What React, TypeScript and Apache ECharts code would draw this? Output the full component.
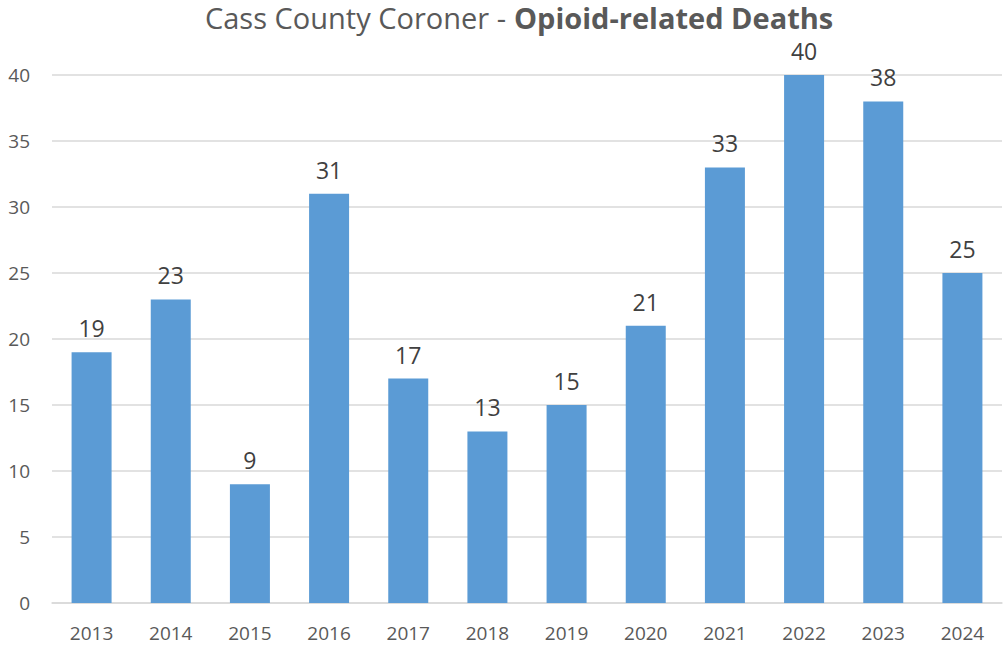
import React, { useEffect, useRef } from "react";
import * as echarts from "echarts";

const categories = ["2013", "2014", "2015", "2016", "2017", "2018", "2019", "2020", "2021", "2022", "2023", "2024"];
const deaths = [19, 23, 9, 31, 17, 13, 15, 21, 33, 40, 38, 25];
const titleRegular = "Cass County Coroner -";
const titleBold = "Opioid-related Deaths";

const FONT = "'Open Sans', sans-serif";

export default function App() {
  const ref = useRef<HTMLDivElement>(null);
  useEffect(() => {
    if (!ref.current) return;
    const chart = echarts.init(ref.current, null, { renderer: "svg" });
    chart.setOption({
      animation: false,
      backgroundColor: "#ffffff",
      title: [
        {
          text: titleRegular,
          left: 506,
          textAlign: "right",
          top: 3,
          padding: 0,
          textStyle: { fontFamily: FONT, fontSize: 29, color: "#595959", fontWeight: "normal" },
        },
        {
          text: titleBold,
          left: 514,
          textAlign: "left",
          top: 3,
          padding: 0,
          textStyle: { fontFamily: FONT, fontSize: 29, color: "#595959", fontWeight: "bold" },
        },
      ],
      grid: { left: 52, right: 1, top: 75, bottom: 48, containLabel: false },
      xAxis: {
        type: "category",
        data: categories,
        axisLine: { show: true, lineStyle: { color: "#d9d9d9", width: 1.5 } },
        axisTick: { show: false },
        axisLabel: { color: "#595959", fontFamily: FONT, fontSize: 19, margin: 20 },
      },
      yAxis: {
        type: "value",
        min: 0,
        max: 40,
        interval: 5,
        axisLine: { show: false },
        axisTick: { show: false },
        splitLine: { lineStyle: { color: "#d9d9d9", width: 1.5 } },
        axisLabel: { color: "#595959", fontFamily: FONT, fontSize: 19, margin: 22 },
      },
      series: [
        {
          type: "bar",
          data: deaths,
          barWidth: 40,
          itemStyle: { color: "#5b9bd5" },
          label: {
            show: true,
            position: "top",
            distance: 12,
            color: "#404040",
            fontFamily: FONT,
            fontSize: 23,
            lineHeight: 24,
          },
        },
      ],
    });
    return () => chart.dispose();
  }, []);
  return <div ref={ref} style={{ width: 1003, height: 651, position: "absolute", left: 0, top: 0 }} />;
}
